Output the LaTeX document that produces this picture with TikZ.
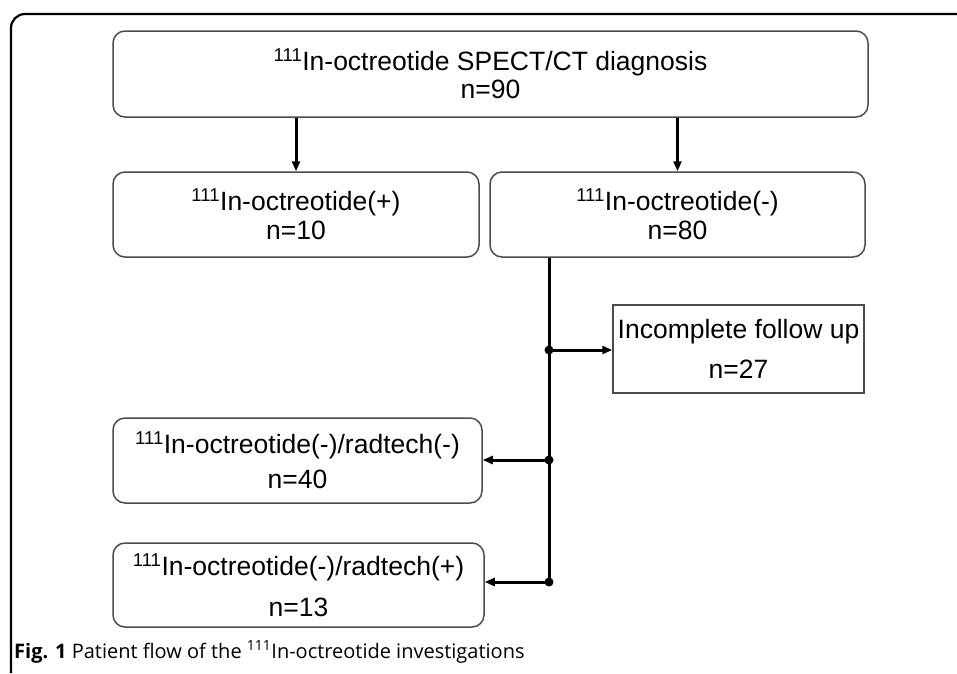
\documentclass[tikz,border=0pt]{standalone}
\usepackage{fontspec}
\setmainfont{Liberation Sans}
\newfontfamily\capfont{Open Sans}
\usetikzlibrary{arrows.meta}
\begin{document}
\begin{tikzpicture}[x=1pt,y=-1pt,
  box/.style={draw=black!70, line width=1.5pt, rounded corners=12pt, align=center,
    font=\fontsize{26.5}{28}\selectfont, inner sep=0pt},
  sqbox/.style={box, rounded corners=0pt},
  flow/.style={line width=3pt, -{Triangle[length=10pt,width=8pt]}},
  trunk/.style={line width=3pt},
  dot/.style={circle, fill=black, inner sep=0pt, minimum size=9pt},
  frame/.style={line width=2.2pt, rounded corners=14pt}]
\useasboundingbox (0,0) rectangle (957,673);
\fill[white] (0,0) rectangle (957,673);
\coordinate (fb) at (11,673);
\coordinate (fc) at (11,14);
\coordinate (fr) at (957,14);
\draw[frame] (fb) -- (fc) -- (fr);

\node[box, minimum width=755pt, minimum height=86pt] (top) at (490.5,74)
  {\textsuperscript{111}In-octreotide SPECT/CT diagnosis\\n=90};
\node[box, minimum width=366pt, minimum height=85pt] (pos) at (296,214.5)
  {\textsuperscript{111}In-octreotide(+)\\[1pt]n=10};
\node[box, minimum width=375pt, minimum height=85pt] (neg) at (677.5,214.5)
  {\textsuperscript{111}In-octreotide(-)\\[1pt]n=80};
\node[sqbox, minimum width=251pt, minimum height=88pt] (inc) at (738.5,349)
  {Incomplete follow up\\[12pt]n=27};
\node[box, minimum width=369pt, minimum height=85pt] (rm) at (297.5,460.5)
  {\textsuperscript{111}In-octreotide(-)/radtech(-)\\[7pt]n=40};
\node[box, minimum width=371pt, minimum height=84pt] (rp) at (298.5,585)
  {\textsuperscript{111}In-octreotide(-)/radtech(+)\\[13pt]n=13};

\draw[flow] (pos.north |- top.south) -- (pos.north);
\draw[flow] (neg.north |- top.south) -- (neg.north);

\node[dot] (j1) at (549,350) {};
\node[dot] (j2) at (549,460) {};
\node[dot] (j3) at (549,582) {};
\draw[trunk] (neg.south -| j1) -- (j3.center);
\draw[flow] (j1.center) -- (j1 -| inc.west);
\draw[flow] (j2.center) -- (j2 -| rm.east);
\draw[flow] (j3.center) -- (j3 -| rp.east);

\node[anchor=west, font=\capfont\fontsize{20}{24}\selectfont, inner sep=0pt] (cap) at (14,652)
  {\textbf{Fig. 1} Patient flow of the \textsuperscript{111}In-octreotide investigations};
\end{tikzpicture}
\end{document}
